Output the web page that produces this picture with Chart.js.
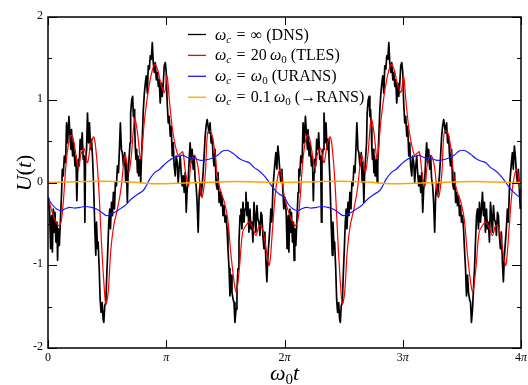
<!DOCTYPE html>
<html>
<head>
<meta charset="utf-8">
<script src="https://cdn.jsdelivr.net/npm/chart.js@4.4.0/dist/chart.umd.min.js"></script>
<style>
  html, body { margin: 0; padding: 0; background: #fff; }
</style>
</head>
<body>
<canvas id="chart" width="528" height="385"></canvas>
<script>
// time axis is stored in units of pi (omega_0 t / pi)
const xTicks = [0, 1, 2, 3, 4];
const xTickLabels = ['0', 'π', '2π', '3π', '4π'];
const yTicks = [-2, -1, 0, 1, 2];
const yMinorTicks = [-1.5, -0.5, 0.5, 1.5];

// DNS, omega_c = infinity
const dnsT = [
  0.003,0.014,0.022,0.031,0.037,0.045,0.053,0.059,0.067,0.076,
  0.081,0.087,0.096,0.104,0.115,0.121,0.129,0.138,0.149,0.157,
  0.166,0.177,0.185,0.194,0.199,0.208,0.216,0.228,0.236,0.244,
  0.25,0.256,0.264,0.272,0.281,0.289,0.298,0.306,0.312,0.317,
  0.326,0.334,0.343,0.351,0.36,0.368,0.376,0.385,0.396,0.404,
  0.41,0.419,0.424,0.433,0.441,0.449,0.458,0.466,0.472,0.48,
  0.489,0.497,0.506,0.514,0.522,0.528,0.537,0.545,0.553,0.562,
  0.57,0.579,0.587,0.596,0.604,0.612,0.621,0.629,0.638,0.649,
  0.657,0.663,0.671,0.677,0.685,0.694,0.699,0.708,0.716,0.722,
  0.728,0.733,0.739,0.744,0.75,0.756,0.761,0.767,0.772,0.778,
  0.784,0.789,0.798,0.806,0.815,0.823,0.831,0.84,0.848,0.857,
  0.865,0.874,0.882,0.89,0.899,0.907,0.916,0.924,0.933,0.941,
  0.949,0.958,0.966,0.975,0.983,0.992,1.0,1.008,1.017,1.025,
  1.034,1.042,1.051,1.059,1.067,1.076,1.084,1.093,1.101,1.108,
  1.118,1.126,1.135,1.143,1.152,1.16,1.169,1.177,1.185,1.194,
  1.202,1.211,1.219,1.228,1.236,1.244,1.253,1.261,1.27,1.278,
  1.287,1.295,1.303,1.312,1.32,1.329,1.337,1.346,1.354,1.362,
  1.371,1.379,1.388,1.396,1.404,1.413,1.421,1.43,1.438,1.447,
  1.455,1.463,1.472,1.48,1.489,1.497,1.506,1.514,1.522,1.531,
  1.539,1.548,1.556,1.565,1.573,1.581,1.59,1.598,1.607,1.615,
  1.624,1.632,1.64,1.649,1.657,1.666,1.674,1.683,1.691,1.699,
  1.708,1.716,1.725,1.733,1.742,1.75,1.758,1.767,1.775,1.784,
  1.792,1.801,1.809,1.817,1.826,1.834,1.843,1.851,1.86,1.868,
  1.876,1.885,1.893,1.902,1.91,1.919,1.927,1.935,1.944,1.952,
  1.961,1.969,1.978,1.986,1.994,
  2.003,2.014,2.022,2.031,2.037,2.045,2.053,2.059,2.067,2.076,
  2.081,2.087,2.096,2.104,2.115,2.121,2.129,2.138,2.149,2.157,
  2.166,2.177,2.185,2.194,2.199,2.208,2.216,2.228,2.236,2.244,
  2.25,2.256,2.264,2.272,2.281,2.289,2.298,2.306,2.312,2.317,
  2.326,2.334,2.343,2.351,2.36,2.368,2.376,2.385,2.396,2.404,
  2.41,2.419,2.424,2.433,2.441,2.449,2.458,2.466,2.472,2.48,
  2.489,2.497,2.506,2.514,2.522,2.528,2.537,2.545,2.553,2.562,
  2.57,2.579,2.587,2.596,2.604,2.612,2.621,2.629,2.638,2.649,
  2.657,2.663,2.671,2.677,2.685,2.694,2.699,2.708,2.716,2.722,
  2.728,2.733,2.739,2.744,2.75,2.756,2.761,2.767,2.772,2.778,
  2.784,2.789,2.798,2.806,2.815,2.823,2.831,2.84,2.848,2.857,
  2.865,2.874,2.882,2.89,2.899,2.907,2.916,2.924,2.933,2.941,
  2.949,2.958,2.966,2.975,2.983,2.992,3.0,3.008,3.017,3.025,
  3.034,3.042,3.051,3.059,3.067,3.076,3.084,3.093,3.101,3.108,
  3.118,3.126,3.135,3.143,3.152,3.16,3.169,3.177,3.185,3.194,
  3.202,3.211,3.219,3.228,3.236,3.244,3.253,3.261,3.27,3.278,
  3.287,3.295,3.303,3.312,3.32,3.329,3.337,3.346,3.354,3.362,
  3.371,3.379,3.388,3.396,3.404,3.413,3.421,3.43,3.438,3.447,
  3.455,3.463,3.472,3.48,3.489,3.497,3.506,3.514,3.522,3.531,
  3.539,3.548,3.556,3.565,3.573,3.581,3.59,3.598,3.607,3.615,
  3.624,3.632,3.64,3.649,3.657,3.666,3.674,3.683,3.691,3.699,
  3.708,3.716,3.725,3.733,3.742,3.75,3.758,3.767,3.775,3.784,
  3.792,3.801,3.809,3.817,3.826,3.834,3.843,3.851,3.86,3.868,
  3.876,3.885,3.893,3.902,3.91,3.919,3.927,3.935,3.944,3.952,
  3.961,3.969,3.978,3.986,3.994
];
const dnsU = [
  -0.18,-0.36,-0.80,-0.40,-0.84,-0.32,-0.60,-0.36,-0.72,-0.48,
  -0.94,-0.56,-0.76,-0.48,-0.12,0.16,0.08,0.32,0.24,0.72,
  0.48,0.80,0.60,0.40,0.64,0.32,0.48,0.20,0.32,-0.22,
  0.12,0.28,0.20,0.52,0.40,0.60,0.28,0.32,-0.48,0.24,
  0.40,0.84,0.48,0.72,0.40,0.52,0.32,0.0,-0.56,-0.88,
  -0.48,-0.80,-0.72,-1.04,-1.41,-1.57,-1.45,-1.65,-1.69,-1.49,
  -1.45,-1.12,-0.80,-0.48,-0.32,-0.56,-0.24,-0.40,-0.12,-0.32,
  0.0,-0.04,0.20,0.12,0.40,0.72,0.40,0.36,0.20,0.36,
  0.0,0.24,-0.24,0.08,0.28,0.48,0.84,1.00,1.04,0.80,
  0.88,0.68,0.40,0.28,0.40,0.12,0.32,0.08,0.24,0.28,
  0.0,0.24,0.56,0.88,1.08,1.20,1.29,1.08,1.41,1.37,
  1.53,1.49,1.69,1.45,1.33,1.45,1.24,1.33,1.16,1.24,
  0.96,1.20,1.04,1.20,1.41,1.45,1.33,0.96,0.72,0.80,
  0.56,0.68,0.32,0.48,0.20,0.08,0.32,0.24,0.0,0.16,
  0.32,0.12,-0.04,0.08,-0.12,0.12,-0.36,-0.08,0.0,0.28,
  0.48,0.24,0.40,0.16,0.32,0.04,-0.04,-0.24,-0.60,-0.16,
  0.0,-0.16,-0.04,0.12,0.32,0.56,0.68,0.76,0.68,0.60,
  0.72,0.48,0.56,0.32,0.20,0.40,0.0,-0.08,0.12,-0.24,
  -0.12,-0.28,-0.16,-0.40,-0.28,-0.48,-0.40,-0.56,-0.80,-1.04,
  -1.37,-1.12,-1.33,-1.41,-1.45,-1.69,-1.53,-1.29,-1.04,-0.72,
  -0.40,-0.32,-0.56,-0.24,-0.48,-0.32,-0.12,-0.40,-0.24,-0.60,
  -0.32,-0.56,-0.48,-0.72,-0.24,-0.40,-0.60,-0.28,-0.44,-0.48,
  -0.64,-0.36,-0.40,-0.64,-0.80,-0.60,-0.96,-1.20,-0.88,-0.72,
  -0.56,-0.32,-0.48,-0.08,0.08,0.24,0.36,0.16,0.44,0.32,
  0.12,0.0,0.16,-0.08,-0.32,
  -0.18,-0.36,-0.80,-0.40,-0.84,-0.32,-0.60,-0.36,-0.72,-0.48,
  -0.94,-0.56,-0.76,-0.48,-0.12,0.16,0.08,0.32,0.24,0.72,
  0.48,0.80,0.60,0.40,0.64,0.32,0.48,0.20,0.32,-0.22,
  0.12,0.28,0.20,0.52,0.40,0.60,0.28,0.32,-0.48,0.24,
  0.40,0.84,0.48,0.72,0.40,0.52,0.32,0.0,-0.56,-0.88,
  -0.48,-0.80,-0.72,-1.04,-1.41,-1.57,-1.45,-1.65,-1.69,-1.49,
  -1.45,-1.12,-0.80,-0.48,-0.32,-0.56,-0.24,-0.40,-0.12,-0.32,
  0.0,-0.04,0.20,0.12,0.40,0.72,0.40,0.36,0.20,0.36,
  0.0,0.24,-0.24,0.08,0.28,0.48,0.84,1.00,1.04,0.80,
  0.88,0.68,0.40,0.28,0.40,0.12,0.32,0.08,0.24,0.28,
  0.0,0.24,0.56,0.88,1.08,1.20,1.29,1.08,1.41,1.37,
  1.53,1.49,1.69,1.45,1.33,1.45,1.24,1.33,1.16,1.24,
  0.96,1.20,1.04,1.20,1.41,1.45,1.33,0.96,0.72,0.80,
  0.56,0.68,0.32,0.48,0.20,0.08,0.32,0.24,0.0,0.16,
  0.32,0.12,-0.04,0.08,-0.12,0.12,-0.36,-0.08,0.0,0.28,
  0.48,0.24,0.40,0.16,0.32,0.04,-0.04,-0.24,-0.60,-0.16,
  0.0,-0.16,-0.04,0.12,0.32,0.56,0.68,0.76,0.68,0.60,
  0.72,0.48,0.56,0.32,0.20,0.40,0.0,-0.08,0.12,-0.24,
  -0.12,-0.28,-0.16,-0.40,-0.28,-0.48,-0.40,-0.56,-0.80,-1.04,
  -1.37,-1.12,-1.33,-1.41,-1.45,-1.69,-1.53,-1.29,-1.04,-0.72,
  -0.40,-0.32,-0.56,-0.24,-0.48,-0.32,-0.12,-0.40,-0.24,-0.60,
  -0.32,-0.56,-0.48,-0.72,-0.24,-0.40,-0.60,-0.28,-0.44,-0.48,
  -0.64,-0.36,-0.40,-0.64,-0.80,-0.60,-0.96,-1.20,-0.88,-0.72,
  -0.56,-0.32,-0.48,-0.08,0.08,0.24,0.36,0.16,0.44,0.32,
  0.12,0.0,0.16,-0.08,-0.32
];

// TLES, omega_c = 20 omega_0
const tlesT = [
  0,0.045,0.087,0.11,0.129,0.157,0.185,0.205,0.23,0.256,
  0.28,0.306,0.334,0.362,0.388,0.41,0.43,0.452,0.472,0.489,
  0.508,0.531,0.556,0.584,0.615,0.635,0.654,0.683,0.705,0.733,
  0.756,0.784,0.817,0.86,0.902,0.93,0.958,0.986,1.006,1.028,
  1.056,1.098,1.12,1.14,1.163,1.188,1.21,1.239,1.267,1.3,
  1.329,1.351,1.379,1.407,1.435,1.463,1.492,1.52,1.548,1.59,
  1.618,1.646,1.674,1.702,1.73,1.758,1.787,1.815,1.843,1.871,
  1.899,1.927,1.963,1.985,
  2,2.045,2.087,2.11,2.129,2.157,2.185,2.205,2.23,2.256,
  2.28,2.306,2.334,2.362,2.388,2.41,2.43,2.452,2.472,2.489,
  2.508,2.531,2.556,2.584,2.615,2.635,2.654,2.683,2.705,2.733,
  2.756,2.784,2.817,2.86,2.902,2.93,2.958,2.986,3.006,3.028,
  3.056,3.098,3.12,3.14,3.163,3.188,3.21,3.239,3.267,3.3,
  3.329,3.351,3.379,3.407,3.435,3.463,3.492,3.52,3.548,3.59,
  3.618,3.646,3.674,3.702,3.73,3.758,3.787,3.815,3.843,3.871,
  3.899,3.927,3.963,3.985,4.0
];
const tlesU = [
  -0.18,-0.40,-0.52,-0.48,-0.24,0.29,0.55,0.57,0.39,0.18,
  0.35,0.41,0.24,0.47,0.55,0.32,-0.08,-0.72,-1.20,-1.47,
  -1.34,-0.82,-0.52,-0.34,-0.10,0.16,0.33,0.12,0.33,0.77,
  0.61,0.29,0.77,1.21,1.43,1.35,1.17,1.09,1.29,0.97,
  0.61,0.33,0.35,0.37,0.12,-0.04,0.24,0.33,0.20,-0.18,
  0.08,0.61,0.61,0.41,0.04,-0.12,-0.24,-0.44,-0.88,-1.32,
  -1.04,-0.60,-0.52,-0.48,-0.54,-0.64,-0.52,-0.56,-0.80,-1.00,
  -0.56,-0.08,0.16,-0.02,
  -0.18,-0.40,-0.52,-0.48,-0.24,0.29,0.55,0.57,0.39,0.18,
  0.35,0.41,0.24,0.47,0.55,0.32,-0.08,-0.72,-1.20,-1.47,
  -1.34,-0.82,-0.52,-0.34,-0.10,0.16,0.33,0.12,0.33,0.77,
  0.61,0.29,0.77,1.21,1.43,1.35,1.17,1.09,1.29,0.97,
  0.61,0.33,0.35,0.37,0.12,-0.04,0.24,0.33,0.20,-0.18,
  0.08,0.61,0.61,0.41,0.04,-0.12,-0.24,-0.44,-0.88,-1.32,
  -1.04,-0.60,-0.52,-0.48,-0.54,-0.64,-0.52,-0.56,-0.80,-1.00,
  -0.56,-0.08,0.16,-0.02,-0.15
];

// URANS, omega_c = omega_0
const uransT = [
  0,0.031,0.073,0.115,0.143,0.185,0.228,0.27,0.312,0.368,
  0.41,0.452,0.494,0.522,0.565,0.607,0.649,0.705,0.761,0.803,
  0.831,0.86,0.902,0.944,0.986,1.028,1.07,1.112,1.14,1.183,
  1.239,1.281,1.323,1.379,1.435,1.477,1.506,1.534,1.576,1.618,
  1.66,1.702,1.744,1.787,1.829,1.871,1.913,1.955,
  2,2.031,2.073,2.115,2.143,2.185,2.228,2.27,2.312,2.368,
  2.41,2.452,2.494,2.522,2.565,2.607,2.649,2.705,2.761,2.803,
  2.831,2.86,2.902,2.944,2.986,3.028,3.07,3.112,3.14,3.183,
  3.239,3.281,3.323,3.379,3.435,3.477,3.506,3.534,3.576,3.618,
  3.66,3.702,3.744,3.787,3.829,3.871,3.913,3.955,4.0
];
const uransU = [
  -0.18,-0.26,-0.32,-0.34,-0.32,-0.30,-0.31,-0.30,-0.29,-0.30,
  -0.32,-0.36,-0.40,-0.39,-0.36,-0.32,-0.28,-0.20,-0.14,-0.10,
  -0.04,0.04,0.12,0.16,0.22,0.27,0.30,0.32,0.33,0.30,
  0.29,0.27,0.27,0.29,0.33,0.38,0.39,0.38,0.34,0.29,
  0.26,0.24,0.18,0.14,0.08,0.0,-0.08,-0.14,
  -0.18,-0.26,-0.32,-0.34,-0.32,-0.30,-0.31,-0.30,-0.29,-0.30,
  -0.32,-0.36,-0.40,-0.39,-0.36,-0.32,-0.28,-0.20,-0.14,-0.10,
  -0.04,0.04,0.12,0.16,0.22,0.27,0.30,0.32,0.33,0.30,
  0.29,0.27,0.27,0.29,0.33,0.38,0.39,0.38,0.34,0.29,
  0.26,0.24,0.18,0.14,0.08,0.0,-0.08,-0.14,-0.19
];

// omega_c = 0.1 omega_0 (close to RANS)
const ransT = [0,0.25,0.45,0.7,0.9,1.1,1.3,1.5,1.7,1.9,2,2.25,2.45,2.7,2.9,3.1,3.3,3.5,3.7,3.9,4.0];
const ransU = [0,0.01,0.015,0.005,-0.015,-0.01,0,0.01,0.01,0,0,0.01,0.015,0.005,-0.015,-0.01,0,0.01,0.01,0,0];

const SERIF = "'Liberation Serif', 'DejaVu Serif', serif";

function pts(t, u) {
  return t.map((v, i) => ({ x: v, y: u[i] }));
}

function drawParts(ctx, x, y, parts) {
  parts.forEach(p => {
    ctx.font = p.f;
    ctx.fillText(p.s, x, y + (p.dy || 0));
    x += ctx.measureText(p.s).width;
  });
  return x;
}
function partsWidth(ctx, parts) {
  let w = 0;
  parts.forEach(p => { ctx.font = p.f; w += ctx.measureText(p.s).width; });
  return w;
}

const F = '16px ' + SERIF, FI = 'italic 16px ' + SERIF;
const FS = '11px ' + SERIF, FSI = 'italic 11px ' + SERIF;
const SP = '\u2004';
const wc = [{ s: 'ω', f: FI }, { s: 'c', f: FSI, dy: 3 }];
const w0 = [{ s: 'ω', f: FI }, { s: '0', f: FS, dy: 3 }];
const legendRows = [
  { color: '#000000', parts: [...wc, { s: SP + '=' + SP + '∞ (DNS)', f: F }] },
  { color: '#ff0000', parts: [...wc, { s: SP + '=' + SP + '20\u2009', f: F }, ...w0, { s: ' (TLES)', f: F }] },
  { color: '#1a1aff', parts: [...wc, { s: SP + '=' + SP, f: F }, ...w0, { s: ' (URANS)', f: F }] },
  { color: '#ffa500', parts: [...wc, { s: SP + '=' + SP + '0.1\u2009', f: F }, ...w0, { s: ' (→RANS)', f: F }] }
];

const decor = {
  id: 'decor',
  afterDatasetsDraw(chart) {
    const { ctx, chartArea: a, scales: { x, y } } = chart;
    ctx.save();
    ctx.strokeStyle = '#000';
    ctx.lineWidth = 1;
    ctx.beginPath();
    xTicks.forEach(v => {
      const px = Math.round(x.getPixelForValue(v)) + 0.5;
      ctx.moveTo(px, a.bottom); ctx.lineTo(px, a.bottom - 8);
      ctx.moveTo(px, a.top); ctx.lineTo(px, a.top + 8);
    });
    yTicks.forEach(v => {
      const py = Math.round(y.getPixelForValue(v)) + 0.5;
      ctx.moveTo(a.left, py); ctx.lineTo(a.left + 9, py);
      ctx.moveTo(a.right, py); ctx.lineTo(a.right - 9, py);
    });
    yMinorTicks.forEach(v => {
      const py = Math.round(y.getPixelForValue(v)) + 0.5;
      ctx.moveTo(a.left, py); ctx.lineTo(a.left + 4, py);
      ctx.moveTo(a.right, py); ctx.lineTo(a.right - 4, py);
    });
    ctx.stroke();
    ctx.lineWidth = 1.5;
    ctx.strokeRect(a.left, a.top, a.right - a.left, a.bottom - a.top);

    // tick labels
    ctx.fillStyle = '#000';
    ctx.textBaseline = 'middle';
    ctx.textAlign = 'right';
    ctx.font = '12px ' + SERIF;
    yTicks.forEach(v => {
      ctx.fillText(String(v), a.left - 5, y.getPixelForValue(v) - 1);
    });
    ctx.textAlign = 'left';
    ctx.textBaseline = 'alphabetic';
    xTickLabels.forEach((lab, i) => {
      const parts = [];
      const num = lab.replace('π', '');
      if (num) parts.push({ s: num, f: '12px ' + SERIF });
      if (lab.indexOf('π') >= 0) parts.push({ s: 'π', f: 'italic 12px ' + SERIF });
      const w = partsWidth(ctx, parts);
      drawParts(ctx, x.getPixelForValue(xTicks[i]) - w / 2, a.bottom + 13, parts);
    });

    // axis titles
    const xt = [{ s: 'ω', f: 'italic 22px ' + SERIF }, { s: '0', f: '15px ' + SERIF, dy: 4 }, { s: 't', f: 'italic 22px ' + SERIF }];
    const xw = partsWidth(ctx, xt);
    drawParts(ctx, (a.left + a.right) / 2 - xw / 2, 380, xt);

    const yt = [{ s: 'U', f: 'italic 22px ' + SERIF }, { s: '(', f: '22px ' + SERIF }, { s: 't', f: 'italic 22px ' + SERIF }, { s: ')', f: '22px ' + SERIF }];
    const yw = partsWidth(ctx, yt);
    ctx.save();
    ctx.translate(31, 173);
    ctx.rotate(-Math.PI / 2);
    drawParts(ctx, -yw / 2, 0, yt);
    ctx.restore();

    // legend
    legendRows.forEach((r, i) => {
      const cy = 34.5 + i * 20.9;
      ctx.strokeStyle = r.color;
      ctx.lineWidth = 1.3;
      ctx.beginPath();
      ctx.moveTo(188, cy); ctx.lineTo(206, cy);
      ctx.stroke();
      ctx.fillStyle = '#000';
      drawParts(ctx, 215, cy + 5, r.parts);
    });
    ctx.restore();
  }
};

new Chart(document.getElementById('chart'), {
  type: 'line',
  data: {
    datasets: [
      { label: 'DNS', data: pts(dnsT, dnsU), borderColor: '#000000', borderWidth: 1.7, order: 4 },
      { label: 'TLES', data: pts(tlesT, tlesU), borderColor: '#ff0000', borderWidth: 1.2, tension: 0.35, order: 3 },
      { label: 'URANS', data: pts(uransT, uransU), borderColor: '#1a1aff', borderWidth: 1.2, tension: 0.35, order: 2 },
      { label: 'RANS', data: pts(ransT, ransU), borderColor: '#ffa500', borderWidth: 1.5, tension: 0.4, order: 1 }
    ]
  },
  options: {
    responsive: false,
    animation: false,
    layout: { padding: { left: 48, right: 7, top: 17, bottom: 37 } },
    elements: { point: { radius: 0 }, line: { borderJoinStyle: 'round' } },
    plugins: { legend: { display: false }, tooltip: { enabled: false } },
    scales: {
      x: { type: 'linear', min: 0, max: 4, display: false },
      y: { type: 'linear', min: -2, max: 2, display: false }
    }
  },
  plugins: [decor]
});
</script>
</body>
</html>
